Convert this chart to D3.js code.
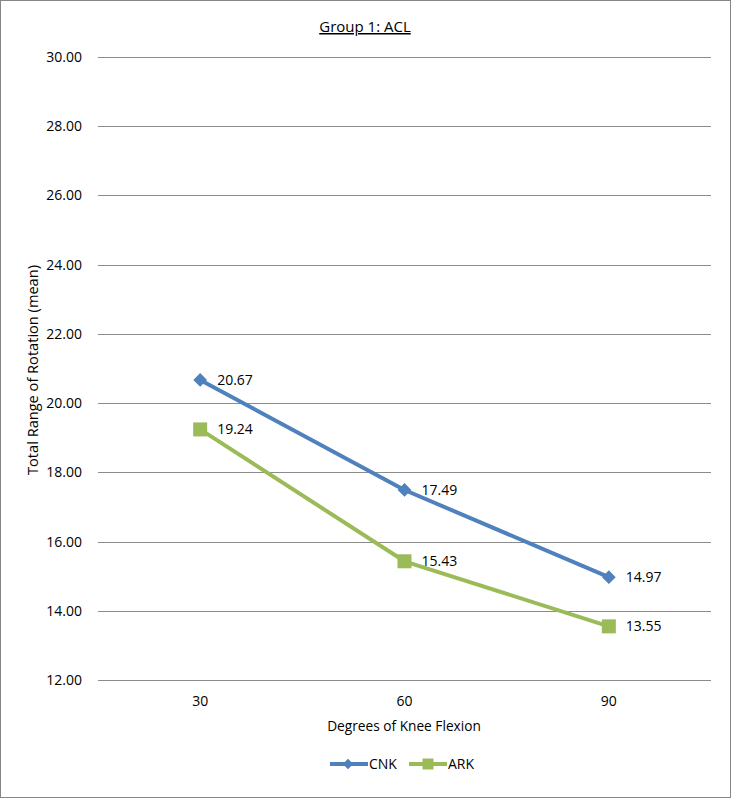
<!DOCTYPE html>
<html><head><meta charset="utf-8">
<script src="https://cdn.jsdelivr.net/npm/d3@7"></script>
<style>
html,body{margin:0;padding:0;background:#fff;}
svg text{font-family:"Open Sans","Noto Sans",sans-serif;fill:#000;}
</style></head>
<body>
<svg id="chart" width="731" height="798"></svg>
<script>
const categories = ["30", "60", "90"];
const seriesNames = ["CNK", "ARK"];
const cnkValues = [20.67, 17.49, 14.97];
const arkValues = [19.24, 15.43, 13.55];
const yTicks = [12, 14, 16, 18, 20, 22, 24, 26, 28, 30];
const colors = ["#4F81BD", "#9BBB59"];

(function(){
const svg = d3.select("#chart");
const W = 731, H = 798;
svg.append("rect").attr("x",0.5).attr("y",0.5).attr("width",W-1).attr("height",H-1)
  .attr("fill","#fff").attr("stroke","#868686").attr("stroke-width",1);

const pl = 98, pr = 711, pt = 57, pb = 680;
const x = d3.scaleBand().domain(categories).range([pl, pr]);
const y = d3.scaleLinear().domain([12, 30]).range([pb, pt]);

svg.append("g").selectAll("line").data(yTicks).join("line")
  .attr("x1", pl).attr("x2", pr)
  .attr("y1", d => Math.round(y(d)) + 0.5).attr("y2", d => Math.round(y(d)) + 0.5)
  .attr("stroke", "#8c8c8c").attr("stroke-width", 1);

const yAxis = d3.axisLeft(y).tickValues(yTicks).tickFormat(d3.format(".2f")).tickSize(0).tickPadding(16);
const gy = svg.append("g").attr("transform", `translate(${pl},0)`).call(yAxis);
gy.select(".domain").remove();
gy.selectAll("text").style("font-size","14px").attr("fill","#000");

const xAxis = d3.axisBottom(x).tickSize(0).tickPadding(0);
const gx = svg.append("g").attr("transform", `translate(0,${pb})`).call(xAxis);
gx.select(".domain").remove();
gx.selectAll("text").style("font-size","14px").attr("fill","#000").attr("y", 26).attr("dy", null);

svg.append("text").attr("x", 365).attr("y", 32).attr("text-anchor","middle")
  .style("font-size","15px").style("text-decoration","underline").text("Group 1: ACL");

svg.append("text").attr("x", 404).attr("y", 731).attr("text-anchor","middle")
  .style("font-size","13.7px").text("Degrees of Knee Flexion");
svg.append("text").attr("transform","translate(38,370) rotate(-90)").attr("text-anchor","middle")
  .style("font-size","14.6px").text("Total Range of Rotation (mean)");

const cx = d => x(d) + x.bandwidth()/2;
const series = [cnkValues, arkValues];
const line = d3.line().x((d,i) => cx(categories[i])).y(d => y(d));

series.forEach((vals, si) => {
  const g = svg.append("g");
  g.append("path").datum(vals).attr("d", line).attr("fill","none")
    .attr("stroke", colors[si]).attr("stroke-width", 4).attr("stroke-linejoin","round");
  if (si === 0) {
    g.selectAll("path.m").data(vals).join("path").attr("class","m")
      .attr("d", d3.symbol(d3.symbolDiamond2, 120)())
      .attr("transform",(d,i)=>`translate(${cx(categories[i])},${y(d)})`)
      .attr("fill", colors[si]);
  } else {
    g.selectAll("rect.m").data(vals).join("rect").attr("class","m")
      .attr("x",(d,i)=>cx(categories[i])-7).attr("y",d=>y(d)-7)
      .attr("width",14).attr("height",14).attr("fill", colors[si]);
  }
  g.selectAll("text").data(vals).join("text")
    .attr("x",(d,i)=>cx(categories[i])+17).attr("y",d=>y(d)).attr("dy","0.36em")
    .style("font-size","14px").text(d=>d.toFixed(2));
});

const legend = [{x:330}, {x:409}];
legend.forEach((l, i) => {
  const g = svg.append("g").attr("transform", `translate(${l.x},764)`);
  g.append("line").attr("x1",0).attr("x2",38).attr("y1",0).attr("y2",0)
    .attr("stroke", colors[i]).attr("stroke-width",4);
  if (i === 0) {
    g.append("path").attr("d", d3.symbol(d3.symbolDiamond2, 70)()).attr("transform","translate(18,0)").attr("fill",colors[i]);
  } else {
    g.append("rect").attr("x",13.5).attr("y",-5.5).attr("width",11).attr("height",11).attr("fill",colors[i]);
  }
  g.append("text").attr("x",39).attr("y",0).attr("dy","0.36em").style("font-size","14px").text(seriesNames[i]);
});
})();
</script>
</body></html>
